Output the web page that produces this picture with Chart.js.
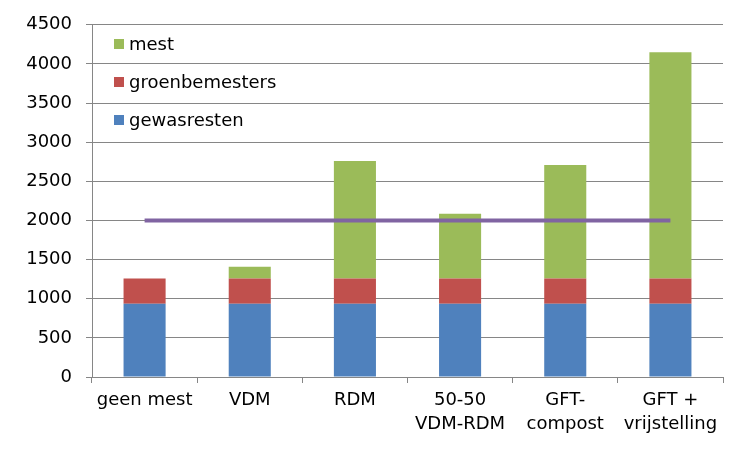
<!DOCTYPE html>
<html>
<head>
<meta charset="utf-8">
<script src="https://cdn.jsdelivr.net/npm/chart.js@4"></script>
<style>
  html, body { margin: 0; padding: 0; background: #fff; }
  #wrap { position: relative; width: 750px; height: 450px; }
  #legend { position: absolute; left: 114px; top: 31px; font-family: 'DejaVu Sans', Verdana, sans-serif; font-size: 18px; color: #000; }
  #legend div { height: 38px; line-height: 26px; white-space: nowrap; }
  #legend span.box { display: inline-block; width: 10px; height: 10px; margin-right: 5px; vertical-align: 1px; }
</style>
</head>
<body>
<div id="wrap">
  <canvas id="chart" width="750" height="450"></canvas>
  <div id="legend"></div>
</div>
<script>
const categories = ['geen mest', 'VDM', 'RDM', ['50-50', 'VDM-RDM'], ['GFT-', 'compost'], ['GFT +', 'vrijstelling']];
const gewasresten = [935, 935, 935, 935, 935, 935];
const groenbemesters = [325, 325, 325, 325, 325, 325];
const mest = [0, 150, 1500, 825, 1450, 2890];
const norm = [2000, 2000, 2000, 2000, 2000, 2000];
const yTicks = [0, 500, 1000, 1500, 2000, 2500, 3000, 3500, 4000, 4500];

const fontFamily = "'DejaVu Sans', Verdana, sans-serif";
const gridColor = '#868686';

const legendItems = [
    { label: 'mest', color: '#9BBB59' },
    { label: 'groenbemesters', color: '#C0504D' },
    { label: 'gewasresten', color: '#4F81BD' }
];
document.getElementById('legend').innerHTML = legendItems
    .map(it => '<div><span class="box" style="background:' + it.color + '"></span>' + it.label + '</div>')
    .join('');

new Chart(document.getElementById('chart'), {
    type: 'bar',
    data: {
        labels: categories,
        datasets: [
            { label: 'norm', type: 'line', data: norm, borderColor: '#8064A2', borderWidth: 4,
              pointRadius: 0, fill: false, stack: 'line', order: 0 },
            { label: 'gewasresten', data: gewasresten, backgroundColor: '#4F81BD', stack: 'a', order: 1 },
            { label: 'groenbemesters', data: groenbemesters, backgroundColor: '#C0504D', stack: 'a', order: 1 },
            { label: 'mest', data: mest, backgroundColor: '#9BBB59', stack: 'a', order: 1 }
        ]
    },
    options: {
        responsive: false,
        animation: false,
        barPercentage: 0.4,
        categoryPercentage: 1.0,
        layout: { padding: { top: 23, right: 27, bottom: 0, left: 0 } },
        plugins: { legend: { display: false }, tooltip: { enabled: false } },
        scales: {
            x: {
                stacked: true,
                grid: { display: true, offset: true, drawOnChartArea: false, color: gridColor, tickLength: 6 },
                border: { color: gridColor },
                ticks: { color: '#000', font: { family: fontFamily, size: 18, lineHeight: 1.3 }, padding: 6, maxRotation: 0, autoSkip: false },
                afterFit: s => { s.height = 73; }
            },
            y: {
                stacked: true,
                min: 0, max: 4500,
                afterBuildTicks: s => { s.ticks = yTicks.map(v => ({ value: v })); },
                grid: { color: gridColor, tickLength: 6 },
                border: { color: gridColor },
                ticks: { color: '#000', font: { family: fontFamily, size: 18 }, padding: 14, callback: v => String(v) },
                afterFit: s => { s.width = 92; }
            }
        }
    }
});
</script>
</body>
</html>
